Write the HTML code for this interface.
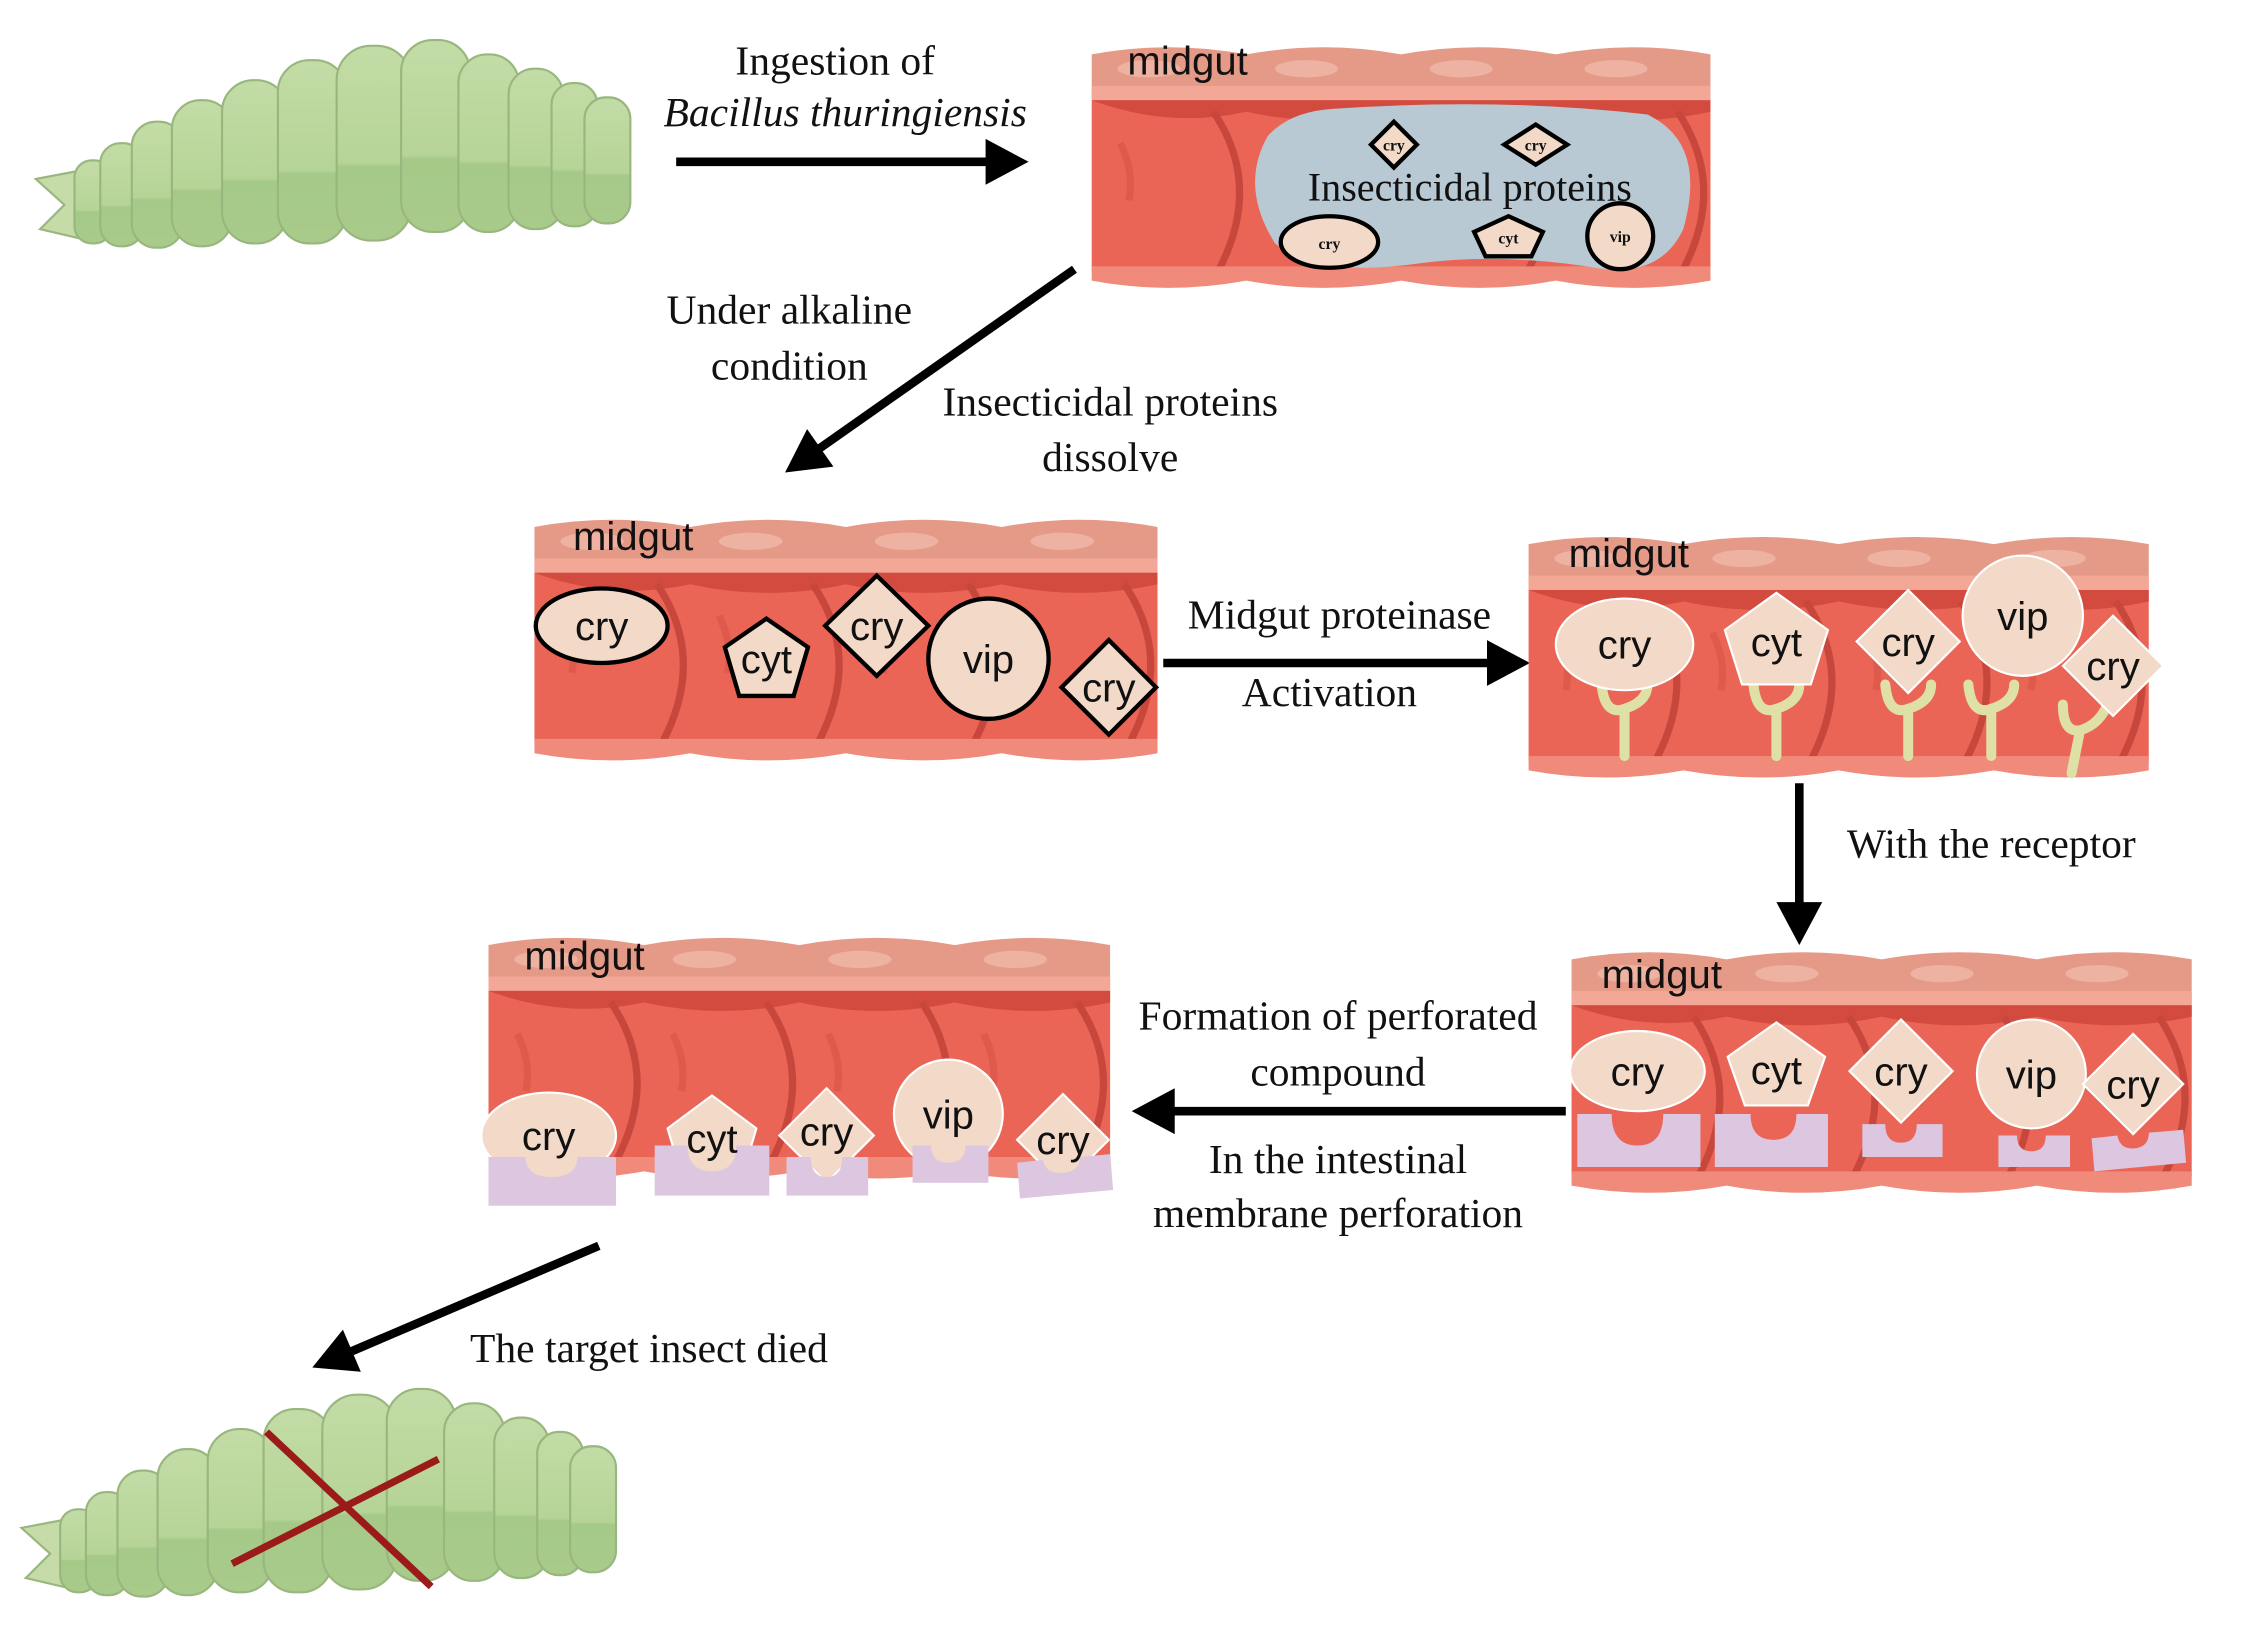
<!DOCTYPE html>
<html><head><meta charset="utf-8"><style>
html,body{margin:0;padding:0;background:#fff;}
svg{display:block;}
.s{font-family:"Liberation Serif",serif;fill:#111;}
.a{font-family:"Liberation Sans",sans-serif;fill:#111;}
</style></head><body>
<svg width="2252" height="1641" viewBox="0 0 1572 1146" preserveAspectRatio="none" xmlns="http://www.w3.org/2000/svg">
<defs>
<linearGradient id="cg" x1="0" y1="0" x2="0" y2="1">
<stop offset="0" stop-color="#c3dca6"/><stop offset="0.6" stop-color="#b6d497"/><stop offset="0.62" stop-color="#a5c988"/><stop offset="1" stop-color="#a8cb8b"/>
</linearGradient>
<symbol id="gut" viewBox="0 0 432 172" preserveAspectRatio="none">
<path d="M0,8 Q54,-2 108,8 Q162,-2 216,8 Q270,-2 324,8 Q378,-2 432,8 L432,40 L0,40Z" fill="#e59a88"/>
<ellipse cx="40" cy="18" rx="22" ry="6" fill="#eeb2a2"/><ellipse cx="150" cy="18" rx="22" ry="6" fill="#eeb2a2"/><ellipse cx="258" cy="18" rx="22" ry="6" fill="#eeb2a2"/><ellipse cx="366" cy="18" rx="22" ry="6" fill="#eeb2a2"/>
<rect x="0" y="30" width="432" height="10" fill="#f3a797"/>
<rect x="0" y="40" width="432" height="120" fill="#ea6555"/>
<path d="M0,40 Q54,60 108,48 Q162,60 216,48 Q270,60 324,48 Q378,60 432,48 L432,40 L0,40Z" fill="#d24b3e"/>
<g fill="none" stroke="#c8473c" stroke-width="5">
<path d="M85,48 Q120,100 88,160"/><path d="M193,48 Q228,100 196,160"/><path d="M301,48 Q336,100 304,160"/><path d="M409,48 Q444,100 412,160"/>
</g>
<g fill="none" stroke="#de5b4c" stroke-width="5">
<path d="M20,70 Q30,90 26,110"/><path d="M128,70 Q138,90 134,110"/><path d="M236,70 Q246,90 242,110"/><path d="M344,70 Q354,90 350,110"/>
</g>
<path d="M0,156 L432,156 L432,166 Q378,176 324,166 Q270,176 216,166 Q162,176 108,166 Q54,176 0,166Z" fill="#f08a7b"/>
</symbol>
<g id="cat">
<path d="M25,125 L62,118 L62,168 L28,160 L45,143Z" fill="#c5dca8" stroke="#98b67e" stroke-width="1.5"/>
<g fill="url(#cg)" stroke="#98b67e" stroke-width="1.5">
<rect x="52" y="112" width="26" height="58" rx="12"/>
<rect x="70" y="100" width="30" height="72" rx="14"/>
<rect x="92" y="85" width="36" height="88" rx="17"/>
<rect x="120" y="70" width="42" height="102" rx="20"/>
<rect x="155" y="56" width="46" height="114" rx="22"/>
<rect x="194" y="42" width="48" height="128" rx="22"/>
<rect x="235" y="32" width="52" height="136" rx="24"/>
<rect x="280" y="28" width="48" height="134" rx="22"/>
<rect x="320" y="38" width="42" height="124" rx="20"/>
<rect x="355" y="48" width="38" height="112" rx="18"/>
<rect x="385" y="58" width="32" height="100" rx="15"/>
<rect x="408" y="68" width="32" height="88" rx="15"/>
</g>
</g>
<g id="ah"><path d="M0,0 L-30,-16 L-30,16Z" fill="#000"/></g>
</defs>

<use href="#cat"/>
<use href="#cat" transform="translate(-10,942)"/>
<line x1="186" y1="1000" x2="301" y2="1108" stroke="#9b1a1a" stroke-width="5"/>
<line x1="162" y1="1092" x2="306" y2="1019" stroke="#9b1a1a" stroke-width="5"/>

<g stroke="#000" stroke-width="6">
<line x1="472" y1="113" x2="695" y2="113"/>
<line x1="750" y1="188" x2="568" y2="316"/>
<line x1="812" y1="463" x2="1045" y2="463"/>
<line x1="1256" y1="547" x2="1256" y2="637"/>
<line x1="1093" y1="776" x2="812" y2="776"/>
<line x1="418" y1="870" x2="240" y2="946"/>
</g>
<use href="#ah" transform="translate(718,113)"/>
<use href="#ah" transform="translate(548,330) rotate(145)"/>
<use href="#ah" transform="translate(1068,463)"/>
<use href="#ah" transform="translate(1256,660) rotate(90)"/>
<use href="#ah" transform="translate(790,776) rotate(180)"/>
<use href="#ah" transform="translate(218,955) rotate(157)"/>

<g class="s" font-size="29" text-anchor="middle">
<text x="583" y="52">Ingestion of</text>
<text x="590" y="88" font-style="italic">Bacillus thuringiensis</text>
<text x="551" y="226">Under alkaline</text>
<text x="551" y="265">condition</text>
<text x="775" y="290">Insecticidal proteins</text>
<text x="775" y="329">dissolve</text>
<text x="935" y="439">Midgut proteinase</text>
<text x="928" y="493">Activation</text>
<text x="1390" y="599">With the receptor</text>
<text x="934" y="719">Formation of perforated</text>
<text x="934" y="758">compound</text>
<text x="934" y="819">In the intestinal</text>
<text x="934" y="857">membrane perforation</text>
<text x="453" y="951">The target insect died</text>
</g>

<use href="#gut" x="762" y="30" width="432" height="172"/>
<path d="M930,76 Q1050,68 1150,80 Q1192,100 1175,160 Q1160,192 1120,188 Q1050,176 990,184 Q920,194 890,170 Q865,130 885,95 Q900,78 930,76Z" fill="#b9c9d3"/>
<g fill="#f2d9c8" stroke="#000" stroke-width="3">
<path d="M973,85 L989,101 L973,117 L957,101Z"/>
<path d="M1072,87 L1094,101 L1072,115 L1050,101Z"/>
<ellipse cx="928" cy="169" rx="34" ry="18"/>
<path d="M1053,151 L1077,162 L1069,179 L1037,179 L1029,162Z"/>
<ellipse cx="1131" cy="165" rx="23" ry="23"/>
</g>
<g class="s" font-size="11" text-anchor="middle" font-weight="bold">
<text x="973" y="105">cry</text><text x="1072" y="105">cry</text><text x="928" y="174">cry</text><text x="1053" y="170">cyt</text><text x="1131" y="169">vip</text>
</g>
<text class="s" x="1026" y="140" font-size="28" text-anchor="middle">Insecticidal proteins</text>
<text class="a" x="787" y="52" font-size="28">midgut</text>

<use href="#gut" x="373" y="360" width="435" height="172"/>
<g fill="#f2d9c8" stroke="#000" stroke-width="3">
<ellipse cx="420" cy="437" rx="46" ry="26"/>
<path d="M535,432 L564,452 L554,486 L516,486 L506,452Z"/>
<path d="M612,402 L648,437 L612,472 L576,437Z"/>
<circle cx="690" cy="460" r="42"/>
<path d="M774,447 L807,480 L774,513 L741,480Z"/>
</g>
<g class="a" font-size="28" text-anchor="middle">
<text x="420" y="447">cry</text><text x="535" y="470">cyt</text><text x="612" y="447">cry</text><text x="690" y="470">vip</text><text x="774" y="490">cry</text>
</g>
<text class="a" x="400" y="384" font-size="28">midgut</text>

<use href="#gut" x="1067" y="372" width="433" height="172"/>
<g fill="none" stroke="#dfe0a6" stroke-width="7" stroke-linecap="round">
<path d="M1134,528 L1134,495 M1118,478 Q1120,500 1134,495 Q1150,490 1150,478"/>
<path d="M1240,528 L1240,495 M1224,478 Q1226,500 1240,495 Q1256,490 1256,478"/>
<path d="M1332,528 L1332,495 M1316,478 Q1318,500 1332,495 Q1348,490 1348,478"/>
<path d="M1390,528 L1390,495 M1374,478 Q1376,500 1390,495 Q1406,490 1406,478"/>
<path d="M1446,540 L1452,510 M1440,492 Q1440,512 1452,510 Q1466,506 1472,490"/>
</g>
<g fill="#f2d9c8" stroke="#fff" stroke-width="1.5">
<ellipse cx="1134" cy="450" rx="48" ry="32"/>
<path d="M1240,414 L1276,440 L1264,478 L1216,478 L1204,440Z"/>
<path d="M1332,412 L1368,448 L1332,484 L1296,448Z"/>
<circle cx="1412" cy="430" r="42"/>
<path d="M1475,430 L1510,465 L1475,500 L1440,465Z"/>
</g>
<g class="a" font-size="28" text-anchor="middle">
<text x="1134" y="460">cry</text><text x="1240" y="458">cyt</text><text x="1332" y="458">cry</text><text x="1412" y="440">vip</text><text x="1475" y="475">cry</text>
</g>
<text class="a" x="1095" y="396" font-size="28">midgut</text>

<use href="#gut" x="1097" y="662" width="433" height="172"/>
<g fill="#f2d9c8" stroke="#fff" stroke-width="1.5">
<ellipse cx="1143" cy="748" rx="47" ry="28"/>
<path d="M1240,714 L1274,738 L1262,772 L1218,772 L1206,738Z"/>
<path d="M1327,712 L1363,748 L1327,784 L1291,748Z"/>
<circle cx="1418" cy="750" r="38"/>
<path d="M1489,722 L1524,757 L1489,792 L1454,757Z"/>
</g>
<g fill="#dcc6e0">
<path d="M1101,778 L1125,778 Q1125,800 1143,800 Q1161,800 1161,778 L1187,778 L1187,815 L1101,815Z"/>
<path d="M1197,778 L1222,778 Q1222,796 1238,796 Q1254,796 1254,778 L1276,778 L1276,815 L1197,815Z"/>
<path d="M1300,785 L1316,785 Q1316,798 1327,798 Q1338,798 1338,785 L1356,785 L1356,808 L1300,808Z"/>
<path d="M1395,793 L1408,793 Q1408,804 1418,804 Q1428,804 1428,793 L1445,793 L1445,815 L1395,815Z"/>
<path d="M1460,795 L1478,793 Q1480,803 1490,802 Q1500,801 1500,791 L1524,789 L1526,812 L1462,818Z"/>
</g>
<g class="a" font-size="28" text-anchor="middle">
<text x="1143" y="758">cry</text><text x="1240" y="757">cyt</text><text x="1327" y="758">cry</text><text x="1418" y="760">vip</text><text x="1489" y="767">cry</text>
</g>
<text class="a" x="1118" y="690" font-size="28">midgut</text>

<use href="#gut" x="341" y="652" width="434" height="172"/>
<g fill="#f2d9c8" stroke="#fff" stroke-width="1.5">
<ellipse cx="383" cy="793" rx="47" ry="30"/>
<path d="M497,765 L528,788 L518,822 L476,822 L466,788Z"/>
<path d="M577,760 L610,793 L577,826 L544,793Z"/>
<circle cx="662" cy="778" r="38"/>
<path d="M742,764 L774,796 L742,828 L710,796Z"/>
</g>
<g fill="#dcc6e0">
<path d="M341,808 L367,808 Q367,822 385,822 Q403,822 403,808 L430,808 L430,842 L341,842Z"/>
<path d="M457,800 L480,800 Q480,818 497,818 Q514,818 514,800 L537,800 L537,835 L457,835Z"/>
<path d="M549,808 L566,808 Q566,822 577,822 Q588,822 588,808 L606,808 L606,835 L549,835Z"/>
<path d="M637,800 L650,800 Q650,812 662,812 Q674,812 674,800 L690,800 L690,826 L637,826Z"/>
<path d="M710,812 L728,810 Q730,820 742,819 Q754,818 754,808 L775,806 L777,831 L712,837Z"/>
</g>
<g class="a" font-size="28" text-anchor="middle">
<text x="383" y="803">cry</text><text x="497" y="805">cyt</text><text x="577" y="800">cry</text><text x="662" y="788">vip</text><text x="742" y="806">cry</text>
</g>
<text class="a" x="366" y="677" font-size="28">midgut</text>
</svg>
</body></html>
